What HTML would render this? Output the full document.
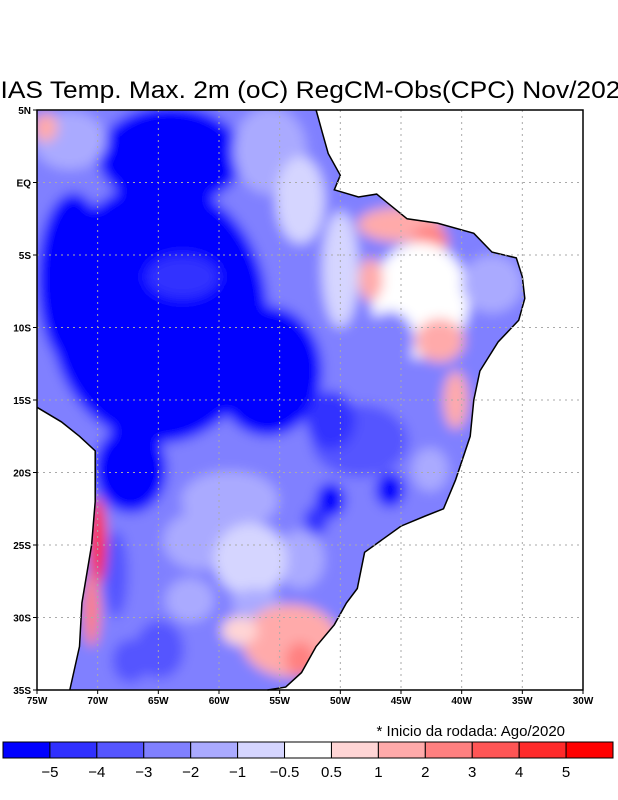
<!DOCTYPE html>
<html><head><meta charset="utf-8"><style>
body{margin:0;background:#fff;width:618px;height:800px;overflow:hidden;font-family:"Liberation Sans",sans-serif}
svg{display:block}
</style></head><body>
<svg id="c" width="618" height="800" viewBox="0 0 618 800" xmlns="http://www.w3.org/2000/svg">
<defs>
<filter id="bl" x="-10%" y="-10%" width="120%" height="120%"><feGaussianBlur stdDeviation="6"/></filter>
<clipPath id="land"><path id="landClip"/></clipPath>
</defs>
<text x="309" y="98" text-anchor="middle" font-size="24" textLength="652" lengthAdjust="spacingAndGlyphs" fill="#000">BIAS Temp. Max. 2m (oC) RegCM-Obs(CPC) Nov/2020</text>
<g id="field" clip-path="url(#land)"><g id="blobs" filter="url(#bl)"></g></g>
<path id="coast" fill="none" stroke="#000" stroke-width="1.5"/>
<g id="grid"></g>
<rect x="37" y="110" width="546" height="580" fill="none" stroke="#000" stroke-width="1.5"/>
<g id="axes"></g>
<text x="565" y="736" text-anchor="end" font-size="15">* Inicio da rodada: Ago/2020</text>
<g id="cbar"></g>
</svg>
<script>
const latTicks=["5N","EQ","5S","10S","15S","20S","25S","30S","35S"];
const lonTicks=["75W","70W","65W","60W","55W","50W","45W","40W","35W","30W"];
const levels=["-5","-4","-3","-2","-1","-0.5","0.5","1","2","3","4","5"];
const levelVals=[-5,-4,-3,-2,-1,-0.5,0.5,1,2,3,4,5];
const palette=["#0000ff","#3030ff","#5555ff","#8080ff","#aaaaff","#d5d5ff","#ffffff","#ffd5d5","#ffaaaa","#ff8080","#ff5555","#ff2a2a","#ff0000"];
const baseValue=-2.5;
// blobs: lon, lat, radius lon, radius lat, bias value
const blobLon=[-65,-64,-72,-56,-67.3,-63,-72.3,-74.3,-55.8,-53.3,-50,-45.1,-42.6,-43.4,-37.5,-47.5,-41.8,-40.5,-45.9,-48.4,-50.8,-50.8,-45.9,-52,-42.6,-59.1,-61.6,-53.3,-57.4,-57,-54.1,-53.3,-58.3,-65.7,-64.9,-67.3,-62.4,-68.5,-70,-70.5];
const blobLat=[-9,1.8,-6.7,-13,-19.8,-6.5,2.9,3.8,2.2,-1.2,-6,-2.9,-4,-8.1,-7,-6.7,-10.9,-15,-10.9,-17.8,-16.4,-21.9,-21.2,-23.3,-19.8,-21.9,-24.7,-26,-26,-29,-31.6,-32.9,-30.9,-28.8,-32.2,-33,-28.8,-27,-24.7,-29.5];
const blobRx=[9,6,3,4.5,3,3,3,1,3,2,1.5,3.5,1.5,4,2.5,1,2,1,2,4,2,1.2,1.2,1,1.5,4,3,2,3,2,4,1.2,1.5,3,2,1.5,2,1,0.7,0.7];
const blobRy=[9,3.5,6,4.5,3,1.5,2,1,3,3,4,1.2,1,4,2,1.5,1.5,2,2,2.5,2,1.2,1.2,1,1.5,2,2,2,2.5,1,2.5,1.2,1,3,2,1.5,1.5,3,3,2.5];
const blobVal=[-5.5,-5.5,-5,-5.5,-5,-4.5,-1,1.5,-1.5,-0.7,-0.7,1.5,2.5,0,-1.5,1.5,1.5,1.5,-2,-3.5,-4,-5,-5,-4.5,-1,-1.5,-1.5,-1.5,-0.5,-1,1.5,3,1,-2.5,-3,-3.5,-1,-3.5,4.5,3];
const coastLon=[-75,-52,-51.5,-51,-50,-50.5,-48.5,-47,-44.5,-42,-39,-37.5,-35.5,-35,-34.8,-35.3,-37,-38.5,-39,-39.3,-40.5,-41.5,-43,-45,-48,-48.6,-49.5,-50.5,-52,-53.2,-54.5,-56,-72.3,-71.5,-71.3,-70.5,-70.2,-70.2,-71.5,-73,-75];
const coastLat=[5,5,3.5,2,0.5,-0.5,-1,-0.8,-2.5,-2.8,-3.5,-4.8,-5.2,-6.5,-8,-9.5,-11,-13,-15,-17.5,-20.5,-22.5,-23,-23.7,-25.5,-28,-29,-30.5,-32,-33.8,-34.8,-35,-35,-32,-29,-25,-22,-18.5,-17.5,-16.5,-15.5];

const X=lon=>37+(lon+75)*546/45;
const Y=lat=>110+(5-lat)*580/40;
const NS="http://www.w3.org/2000/svg";
function colorOf(v){let i=0;while(i<levelVals.length&&v>levelVals[i])i++;return palette[i];}
function mk(tag,attrs,parent){const e=document.createElementNS(NS,tag);for(const k in attrs)e.setAttribute(k,attrs[k]);parent.appendChild(e);return e;}

let d="";
for(let i=0;i<coastLon.length;i++)d+=(i?"L":"M")+X(coastLon[i]).toFixed(1)+","+Y(coastLat[i]).toFixed(1);
d+="Z";
document.getElementById("landClip").setAttribute("d",d);
let c1="",c2="";
for(let i=1;i<=31;i++)c1+=(i>1?"L":"M")+X(coastLon[i]).toFixed(1)+","+Y(coastLat[i]).toFixed(1);
for(let i=32;i<coastLon.length;i++)c2+=(i>32?"L":"M")+X(coastLon[i]).toFixed(1)+","+Y(coastLat[i]).toFixed(1);
document.getElementById("coast").setAttribute("d",c1+c2);

const bg=document.getElementById("blobs");
const base=mk("rect",{x:20,y:95,width:580,height:610,fill:colorOf(baseValue)},bg);


for(let i=0;i<blobLon.length;i++){
  const e=mk("ellipse",{cx:X(blobLon[i]),cy:Y(blobLat[i]),rx:blobRx[i]*546/45,ry:blobRy[i]*580/40,fill:colorOf(blobVal[i])},bg);
  
  
}
const g=document.getElementById("grid");
for(let k=1;k<lonTicks.length-1;k++){
  const l=mk("line",{x1:X(-75+5*k),x2:X(-75+5*k),y1:110,y2:690,stroke:"#aaa","stroke-dasharray":"2,4","stroke-width":1},g);
  
  
}
for(let k=1;k<latTicks.length-1;k++){
  const l=mk("line",{x1:37,x2:583,y1:Y(5-5*k),y2:Y(5-5*k),stroke:"#aaa","stroke-dasharray":"2,4","stroke-width":1},g);
  
  
}
const ax=document.getElementById("axes");
latTicks.forEach((t,k)=>{
  const y=Y(5-5*k);
  const tx=mk("text",{x:31,y:y+4,"text-anchor":"end","font-size":10,"font-weight":"bold"},ax);tx.textContent=t;
  
  
  mk("line",{x1:33,x2:37,y1:y,y2:y,stroke:"#000"},ax);
});
lonTicks.forEach((t,k)=>{
  const x=X(-75+5*k);
  const tx=mk("text",{x:x,y:704,"text-anchor":"middle","font-size":10,"font-weight":"bold"},ax);tx.textContent=t;
  
  
  mk("line",{x1:x,x2:x,y1:690,y2:694,stroke:"#000"},ax);
});
const cb=document.getElementById("cbar");
const bw=610/palette.length;
palette.forEach((c,i)=>{
  const r=mk("rect",{x:3+i*bw,y:742,width:bw,height:16,fill:c,stroke:"#000","stroke-width":1},cb);
  
  
});
levels.forEach((t,i)=>{
  const tx=mk("text",{x:3+(i+1)*bw,y:777,"text-anchor":"middle","font-size":15},cb);tx.textContent=t.replace("-","\u2212");
  
  
});
</script>
</body></html>
